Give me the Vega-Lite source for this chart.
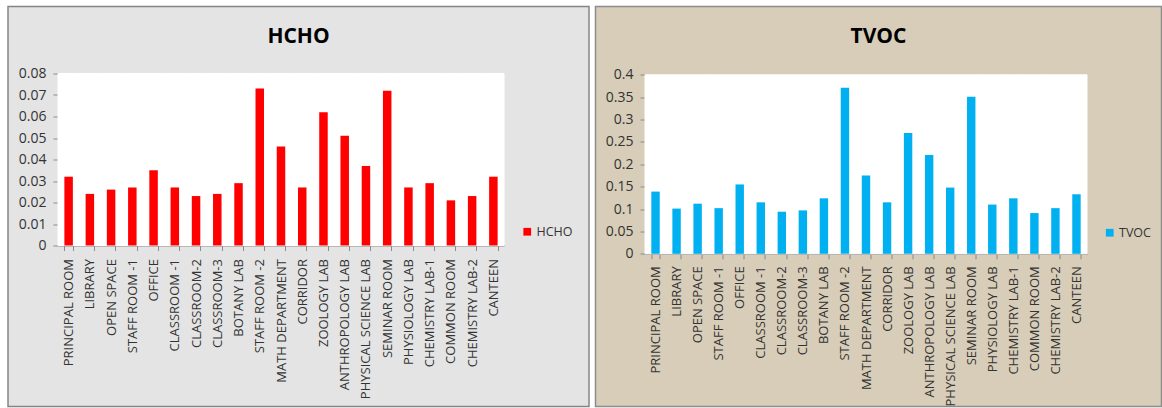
{
  "$schema": "https://vega.github.io/schema/vega-lite/v6.json",
  "background": "white",
  "padding": {"left": 1, "top": 5.5, "right": 0, "bottom": 0},
  "spacing": 6.5,
  "bounds": "flush",
  "datasets": {
    "hcho": [
      {"room": "PRINCIPAL ROOM", "pollutant": "HCHO", "value": 0.032},
      {"room": "LIBRARY", "pollutant": "HCHO", "value": 0.024},
      {"room": "OPEN SPACE", "pollutant": "HCHO", "value": 0.026},
      {"room": "STAFF ROOM -1", "pollutant": "HCHO", "value": 0.027},
      {"room": "OFFICE", "pollutant": "HCHO", "value": 0.035},
      {"room": "CLASSROOM -1", "pollutant": "HCHO", "value": 0.027},
      {"room": "CLASSROOM-2", "pollutant": "HCHO", "value": 0.023},
      {"room": "CLASSROOM-3", "pollutant": "HCHO", "value": 0.024},
      {"room": "BOTANY LAB", "pollutant": "HCHO", "value": 0.029},
      {"room": "STAFF ROOM -2", "pollutant": "HCHO", "value": 0.073},
      {"room": "MATH DEPARTMENT", "pollutant": "HCHO", "value": 0.046},
      {"room": "CORRIDOR", "pollutant": "HCHO", "value": 0.027},
      {"room": "ZOOLOGY LAB", "pollutant": "HCHO", "value": 0.062},
      {"room": "ANTHROPOLOGY LAB", "pollutant": "HCHO", "value": 0.051},
      {"room": "PHYSICAL SCIENCE LAB", "pollutant": "HCHO", "value": 0.037},
      {"room": "SEMINAR ROOM", "pollutant": "HCHO", "value": 0.072},
      {"room": "PHYSIOLOGY LAB", "pollutant": "HCHO", "value": 0.027},
      {"room": "CHEMISTRY LAB-1", "pollutant": "HCHO", "value": 0.029},
      {"room": "COMMON ROOM", "pollutant": "HCHO", "value": 0.021},
      {"room": "CHEMISTRY LAB-2", "pollutant": "HCHO", "value": 0.023},
      {"room": "CANTEEN", "pollutant": "HCHO", "value": 0.032}
    ],
    "tvoc": [
      {"room": "PRINCIPAL ROOM", "pollutant": "TVOC", "value": 0.139},
      {"room": "LIBRARY", "pollutant": "TVOC", "value": 0.101},
      {"room": "OPEN SPACE", "pollutant": "TVOC", "value": 0.112},
      {"room": "STAFF ROOM -1", "pollutant": "TVOC", "value": 0.102},
      {"room": "OFFICE", "pollutant": "TVOC", "value": 0.155},
      {"room": "CLASSROOM -1", "pollutant": "TVOC", "value": 0.115},
      {"room": "CLASSROOM-2", "pollutant": "TVOC", "value": 0.094},
      {"room": "CLASSROOM-3", "pollutant": "TVOC", "value": 0.097},
      {"room": "BOTANY LAB", "pollutant": "TVOC", "value": 0.124},
      {"room": "STAFF ROOM -2", "pollutant": "TVOC", "value": 0.371},
      {"room": "MATH DEPARTMENT", "pollutant": "TVOC", "value": 0.175},
      {"room": "CORRIDOR", "pollutant": "TVOC", "value": 0.115},
      {"room": "ZOOLOGY LAB", "pollutant": "TVOC", "value": 0.270},
      {"room": "ANTHROPOLOGY LAB", "pollutant": "TVOC", "value": 0.221},
      {"room": "PHYSICAL SCIENCE LAB", "pollutant": "TVOC", "value": 0.148},
      {"room": "SEMINAR ROOM", "pollutant": "TVOC", "value": 0.351},
      {"room": "PHYSIOLOGY LAB", "pollutant": "TVOC", "value": 0.110},
      {"room": "CHEMISTRY LAB-1", "pollutant": "TVOC", "value": 0.124},
      {"room": "COMMON ROOM", "pollutant": "TVOC", "value": 0.091},
      {"room": "CHEMISTRY LAB-2", "pollutant": "TVOC", "value": 0.102},
      {"room": "CANTEEN", "pollutant": "TVOC", "value": 0.133}
    ]
  },
  "hconcat": [
    {
      "width": 581,
      "height": 400,
      "view": {"fill": "#e4e4e4", "stroke": "#858585", "strokeWidth": 1.5},
      "title": {"text": "HCHO", "offset": -40},
      "data": {"name": "hcho"},
      "layer": [
        {
          "mark": {"type": "bar", "color": "white", "stroke": "white", "strokeWidth": 1, "width": {"band": 2.5}},
          "encoding": {
            "x": {"field": "room", "type": "nominal", "sort": null, "scale": {"range": [50, 496], "paddingInner": 0.6, "paddingOuter": 0.3}, "axis": null},
            "y": {"datum": 0.08, "type": "quantitative", "scale": {"domain": [0, 0.08], "range": [239, 67], "nice": false, "zero": false}, "axis": null},
            "y2": {"datum": 0}
          }
        },
        {
          "mark": {"type": "bar", "width": {"band": 1}},
          "encoding": {
            "x": {
              "field": "room", "type": "nominal", "sort": null,
              "scale": {"range": [50, 496], "paddingInner": 0.6, "paddingOuter": 0.3},
              "axis": {"orient": "bottom", "title": null, "offset": -161, "labelAngle": -90, "tickBand": "extent", "tickSize": 5, "labelPadding": 8, "domain": true}
            },
            "y": {
              "field": "value", "type": "quantitative",
              "scale": {"domain": [0, 0.08], "range": [239, 67], "nice": false, "zero": false},
              "axis": {"orient": "left", "title": null, "values": [0, 0.01, 0.02, 0.03, 0.04, 0.05, 0.06, 0.07, 0.08], "format": ".2~f", "offset": -50, "tickSize": 5, "labelPadding": 7, "domain": true, "labelFontSize": 14}
            },
            "y2": {"datum": 0},
            "color": {
              "field": "pollutant", "type": "nominal",
              "scale": {"domain": ["HCHO"], "range": ["#ff0000"]},
              "legend": {"orient": "none", "legendX": 513, "legendY": 219, "title": null}
            }
          }
        }
      ],
      "resolve": {"axis": {"x": "independent", "y": "independent"}}
    },
    {
      "width": 566,
      "height": 400,
      "view": {"fill": "#d7cdb9", "stroke": "#8c8c8c", "strokeWidth": 1.5},
      "title": {"text": "TVOC", "offset": -40},
      "data": {"name": "tvoc"},
      "layer": [
        {
          "mark": {"type": "bar", "color": "white", "stroke": "white", "strokeWidth": 1, "width": {"band": 2.5}},
          "encoding": {
            "x": {"field": "room", "type": "nominal", "sort": null, "scale": {"range": [49.5, 491.5], "paddingInner": 0.6, "paddingOuter": 0.3}, "axis": null},
            "y": {"datum": 0.4, "type": "quantitative", "scale": {"domain": [0, 0.4], "range": [247.3, 68.3], "nice": false, "zero": false}, "axis": null},
            "y2": {"datum": 0}
          }
        },
        {
          "mark": {"type": "bar", "width": {"band": 1}},
          "encoding": {
            "x": {
              "field": "room", "type": "nominal", "sort": null,
              "scale": {"range": [49.5, 491.5], "paddingInner": 0.6, "paddingOuter": 0.3},
              "axis": {"orient": "bottom", "title": null, "offset": -152.7, "labelAngle": -90, "tickBand": "extent", "tickSize": 5, "labelPadding": 7, "domain": true}
            },
            "y": {
              "field": "value", "type": "quantitative",
              "scale": {"domain": [0, 0.4], "range": [247.3, 68.3], "nice": false, "zero": false},
              "axis": {"orient": "left", "title": null, "values": [0, 0.05, 0.1, 0.15, 0.2, 0.25, 0.3, 0.35, 0.4], "format": ".2~f", "offset": -49.5, "tickSize": 5, "labelPadding": 7, "domain": true, "labelFontSize": 14}
            },
            "y2": {"datum": 0},
            "color": {
              "field": "pollutant", "type": "nominal",
              "scale": {"domain": ["TVOC"], "range": ["#00b0f0"]},
              "legend": {"orient": "none", "legendX": 508, "legendY": 220, "title": null}
            }
          }
        }
      ],
      "resolve": {"axis": {"x": "independent", "y": "independent"}}
    }
  ],
  "resolve": {
    "scale": {"x": "independent", "y": "independent", "color": "independent"},
    "legend": {"color": "independent"}
  },
  "config": {
    "font": "Open Sans",
    "axis": {
      "labelFont": "Open Sans", "labelFontSize": 13, "labelColor": "#333333",
      "tickColor": "#8a8a8a", "tickWidth": 1, "grid": false,
      "domainColor": "#8a8a8a", "domainWidth": 1
    },
    "legend": {
      "labelFont": "Open Sans", "labelFontSize": 12.5, "labelColor": "#333333",
      "symbolType": "square", "symbolSize": 60, "symbolStrokeWidth": 0,
      "labelOffset": 3, "padding": 0
    },
    "title": {
      "font": "Open Sans", "fontSize": 21, "fontWeight": "bold", "color": "#000000",
      "anchor": "middle", "baseline": "alphabetic"
    }
  }
}
